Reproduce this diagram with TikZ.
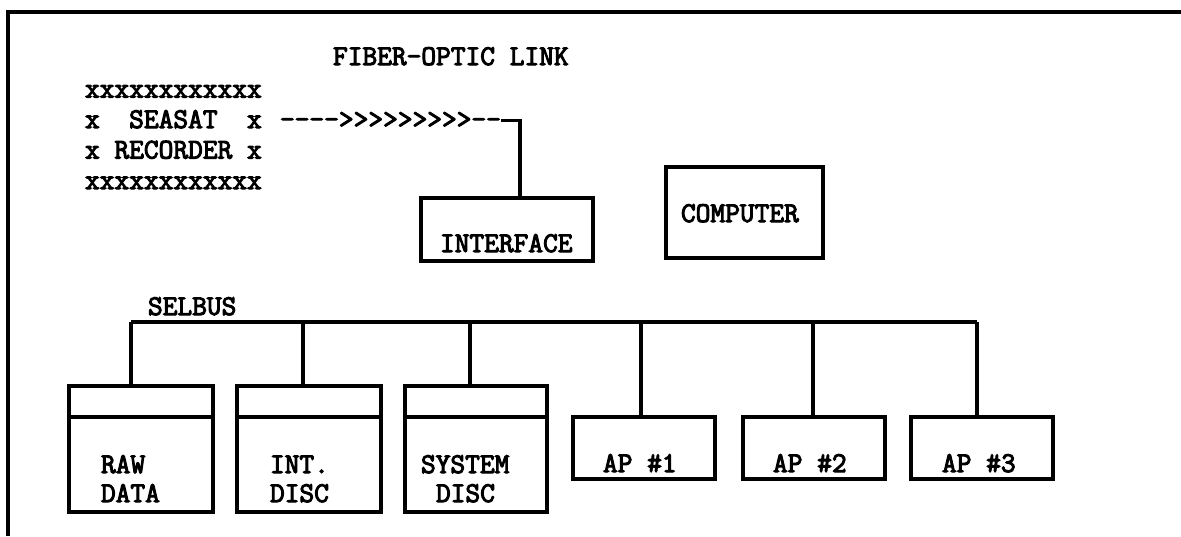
\documentclass[tikz,border=0pt]{standalone}
\usepackage{fontspec}
\newfontfamily\tw[FakeBold=3.6]{Latin Modern Mono}
\usetikzlibrary{calc}
\newcommand\hy{-\kern0pt}
\begin{document}
\begin{tikzpicture}[x=1pt,y=-1pt,
  txt/.style={font=\tw\fontsize{28.6}{28.6}\selectfont, inner sep=0pt, outer sep=0pt, anchor=base west},
  box/.style={draw, line width=3.2pt, rectangle, inner sep=0pt, outer sep=0pt, anchor=north west},
  wire/.style={line width=3.2pt},
  frame/.style={line width=3.2pt}]
\useasboundingbox (0,0) rectangle (1181,536);
% frame
\coordinate (ftl) at (8,12);
\coordinate (ftr) at (1181,12);
\coordinate (fbl) at (8,536);
\draw[frame] (ftr) -- (ftl) -- (fbl);

% recorder text
\node[txt] (fib) at (333,65) {FIBER\hy OPTIC LINK};
\node[txt] (r1) at (85,97.5) {xxxxxxxxxxxx};
\node[txt] (r2) at (85,128) {x\ \ SEASAT\ \ x};
\node[txt] (r3) at (85,158.5) {x RECORDER x};
\node[txt] (r4) at (85,189) {xxxxxxxxxxxx};
\node[txt] (link) at (280,128) {\hy\hy\hy\hy>>>>>>>>>\hy\hy};

% boxes
\node[box, minimum width=172pt, minimum height=63pt] (iface) at (421,198) {};
\node[box, minimum width=157pt, minimum height=91pt] (comp) at (666,167) {};
\node[txt] (ifacet) at (440,252) {INTERFACE};
\node[txt] (compt) at (681,222) {COMPUTER};

\coordinate (lk) at (520,120.5);
\draw[wire] (link.east |- lk) -- (lk) -- (lk |- iface.north);

% selbus
\node[txt] (selbus) at (148,315) {SELBUS};
\coordinate (b1) at (131,322);
\coordinate (b2) at (303,322);
\coordinate (b3) at (470,322);
\coordinate (b4) at (641,322);
\coordinate (b5) at (813,322);
\coordinate (b6) at (977,322);
\draw[wire] (b1) -- (b6);

\node[box, minimum width=144pt, minimum height=126pt] (raw) at (69,386) {};
\node[box, minimum width=144pt, minimum height=126pt] (intd) at (237,386) {};
\node[box, minimum width=142pt, minimum height=126pt] (sysd) at (405,386) {};
\node[box, minimum width=142pt, minimum height=62pt] (ap1) at (573,417) {};
\node[box, minimum width=142pt, minimum height=62pt] (ap2) at (743,417) {};
\node[box, minimum width=142pt, minimum height=62pt] (ap3) at (911,417) {};

\foreach \b in {raw,intd,sysd}{
  \draw[wire] ($(\b.north west)+(0,31)$) -- ($(\b.north east)+(0,31)$);
}

\draw[wire] (b1) -- (b1 |- raw.north);
\draw[wire] (b2) -- (b2 |- intd.north);
\draw[wire] (b3) -- (b3 |- sysd.north);
\draw[wire] (b4) -- (b4 |- ap1.north);
\draw[wire] (b5) -- (b5 |- ap2.north);
\draw[wire] (b6) -- (b6 |- ap3.north);

\node[txt] (rawa) at (101,473) {RAW};
\node[txt] (rawb) at (101,502) {DATA};
\node[txt] (inta) at (270,473) {INT.};
\node[txt] (intb) at (270,502) {DISC};
\node[txt] (sysa) at (421,473) {SYSTEM};
\node[txt] (sysb) at (436,502) {DISC};
\node[txt] (ap1t) at (603,472) {AP \#1};
\node[txt] (ap2t) at (773,472) {AP \#2};
\node[txt] (ap3t) at (942,472) {AP \#3};
\end{tikzpicture}
\end{document}
